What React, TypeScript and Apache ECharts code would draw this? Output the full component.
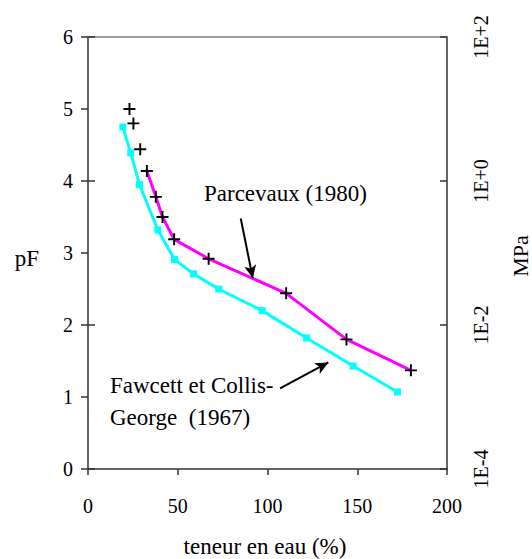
import React, { useEffect, useRef } from 'react';
import * as echarts from 'echarts';

// Fawcett et Collis-George (1967)
const fawcettWater = [19.4, 23.8, 28.7, 38.9, 48.2, 58.8, 72.8, 97.0, 121.8, 147.7, 172.4];
const fawcettPF = [4.75, 4.39, 3.95, 3.32, 2.91, 2.71, 2.5, 2.2, 1.82, 1.43, 1.07];

// Parcevaux (1980) – measured points (+)
const parcevauxWater = [23.1, 25.3, 29.1, 32.8, 37.8, 41.5, 48.0, 67.2, 110.4, 144.0, 179.9];
const parcevauxPF = [5.0, 4.8, 4.44, 4.14, 3.78, 3.5, 3.19, 2.92, 2.44, 1.8, 1.37];
const parcevauxLineStart = 3;

// right axis (MPa) tick labels at pF 0, 2, 4, 6
const mpaTickLabels = ['1E-4', '1E-2', '1E+0', '1E+2'];

// annotation arrows (data coordinates)
const arrowParcevaux = [[85.1, 3.48], [91.8, 2.65]];
const arrowFawcett = [[107.0, 1.12], [133.9, 1.48]];

const FONT = "'Times New Roman', 'Liberation Serif', serif";
const AXIS = '#333333';

const zip = (a: number[], b: number[]) => a.map((v, i) => [v, b[i]]);

const PLUS = 'path://M4.2,0H5.8V4.2H10V5.8H5.8V10H4.2V5.8H0V4.2H4.2Z';

const txt = (text: string, x: number, y: number, align: string, extra: any = {}, size = 23) => ({
  type: 'text',
  x,
  y,
  ...extra,
  style: { text, fontFamily: FONT, fontSize: size, fill: '#000', align, verticalAlign: 'middle' },
});

export default function App() {
  const ref = useRef<HTMLDivElement>(null);
  useEffect(() => {
    const chart = echarts.init(ref.current!, null, { renderer: 'svg' });
    const fawcett = zip(fawcettWater, fawcettPF);
    const parc = zip(parcevauxWater, parcevauxPF);
    chart.setOption({
      animation: false,
      backgroundColor: '#ffffff',
      textStyle: { fontFamily: FONT },
      grid: { left: 88, right: 85, top: 37, bottom: 90, containLabel: false },
      xAxis: [
        {
          type: 'value',
          min: 0,
          max: 200,
          interval: 50,
          position: 'bottom',
          axisLine: { show: true, onZero: false, lineStyle: { color: AXIS, width: 1.5 } },
          axisTick: { show: true, inside: false, length: 6, lineStyle: { color: AXIS, width: 1.5 } },
          axisLabel: { margin: 27, fontFamily: FONT, fontSize: 20, color: '#000' },
          splitLine: { show: false },
        },
        {
          type: 'value',
          min: 0,
          max: 200,
          position: 'top',
          axisLine: { show: true, onZero: false, lineStyle: { color: '#808080', width: 1.5 } },
          axisTick: { show: false },
          axisLabel: { show: false },
          splitLine: { show: false },
        },
      ],
      yAxis: [
        {
          type: 'value',
          min: 0,
          max: 6,
          interval: 1,
          position: 'left',
          axisLine: { show: true, onZero: false, lineStyle: { color: AXIS, width: 1.5 } },
          axisTick: { show: true, inside: false, length: 7, lineStyle: { color: AXIS, width: 1.5 } },
          axisLabel: { margin: 15, fontFamily: FONT, fontSize: 20, color: '#000' },
          splitLine: { show: false },
        },
        {
          type: 'value',
          min: 0,
          max: 6,
          interval: 2,
          position: 'right',
          axisLine: { show: true, onZero: false, lineStyle: { color: AXIS, width: 1.5 } },
          axisTick: { show: true, inside: true, length: 7, lineStyle: { color: AXIS, width: 1.5 } },
          axisLabel: {
            margin: 24,
            rotate: 90,
            fontFamily: FONT,
            fontSize: 20,
            color: '#000',
            formatter: (v: number) => mpaTickLabels[Math.round(v / 2)] ?? '',
          },
          splitLine: { show: false },
        },
        {
          type: 'value',
          min: 0,
          max: 6,
          interval: 2,
          position: 'right',
          axisLine: { show: false },
          axisTick: { show: true, inside: false, length: 7, lineStyle: { color: AXIS, width: 1.5 } },
          axisLabel: { show: false },
          splitLine: { show: false },
        },
      ],
      series: [
        {
          name: 'Fawcett et Collis-George (1967)',
          type: 'line',
          data: fawcett,
          lineStyle: { color: '#00FFFF', width: 3 },
          itemStyle: { color: '#00FFFF' },
          symbol: 'rect',
          symbolSize: 7,
          z: 2,
          markLine: {
            silent: true,
            symbol: ['none', 'arrow'],
            symbolSize: [9, 13],
            label: { show: false },
            lineStyle: { color: '#000', width: 2, type: 'solid' },
            data: [
              [{ coord: arrowFawcett[0] }, { coord: arrowFawcett[1] }],
              [{ coord: arrowParcevaux[0] }, { coord: arrowParcevaux[1] }],
            ],
          },
        },
        {
          name: 'Parcevaux (1980)',
          type: 'line',
          data: parc.slice(parcevauxLineStart),
          lineStyle: { color: '#FF00FF', width: 3 },
          itemStyle: { color: '#FF00FF' },
          showSymbol: false,
          symbol: 'none',
          z: 3,
        },
        {
          name: 'Parcevaux (1980) mesures',
          type: 'scatter',
          data: parc,
          symbol: PLUS,
          symbolSize: 12,
          itemStyle: { color: '#000', opacity: 1 },
          z: 4,
        },
      ],
      graphic: [
        txt('Parcevaux (1980)', 204, 193, 'left'),
        txt('Fawcett et Collis-', 110, 385, 'left'),
        txt('George  (1967)', 110, 417, 'left'),
        txt('pF', 27, 258, 'center'),
        txt('MPa', 520, 256, 'center', { rotation: Math.PI / 2 }, 22),
        txt('teneur en eau (%)', 265, 546, 'center'),
      ],
    });
    return () => chart.dispose();
  }, []);
  return (
    <div
      ref={ref}
      style={{ position: 'fixed', left: 0, top: 0, width: 532, height: 559, background: '#fff' }}
    />
  );
}
